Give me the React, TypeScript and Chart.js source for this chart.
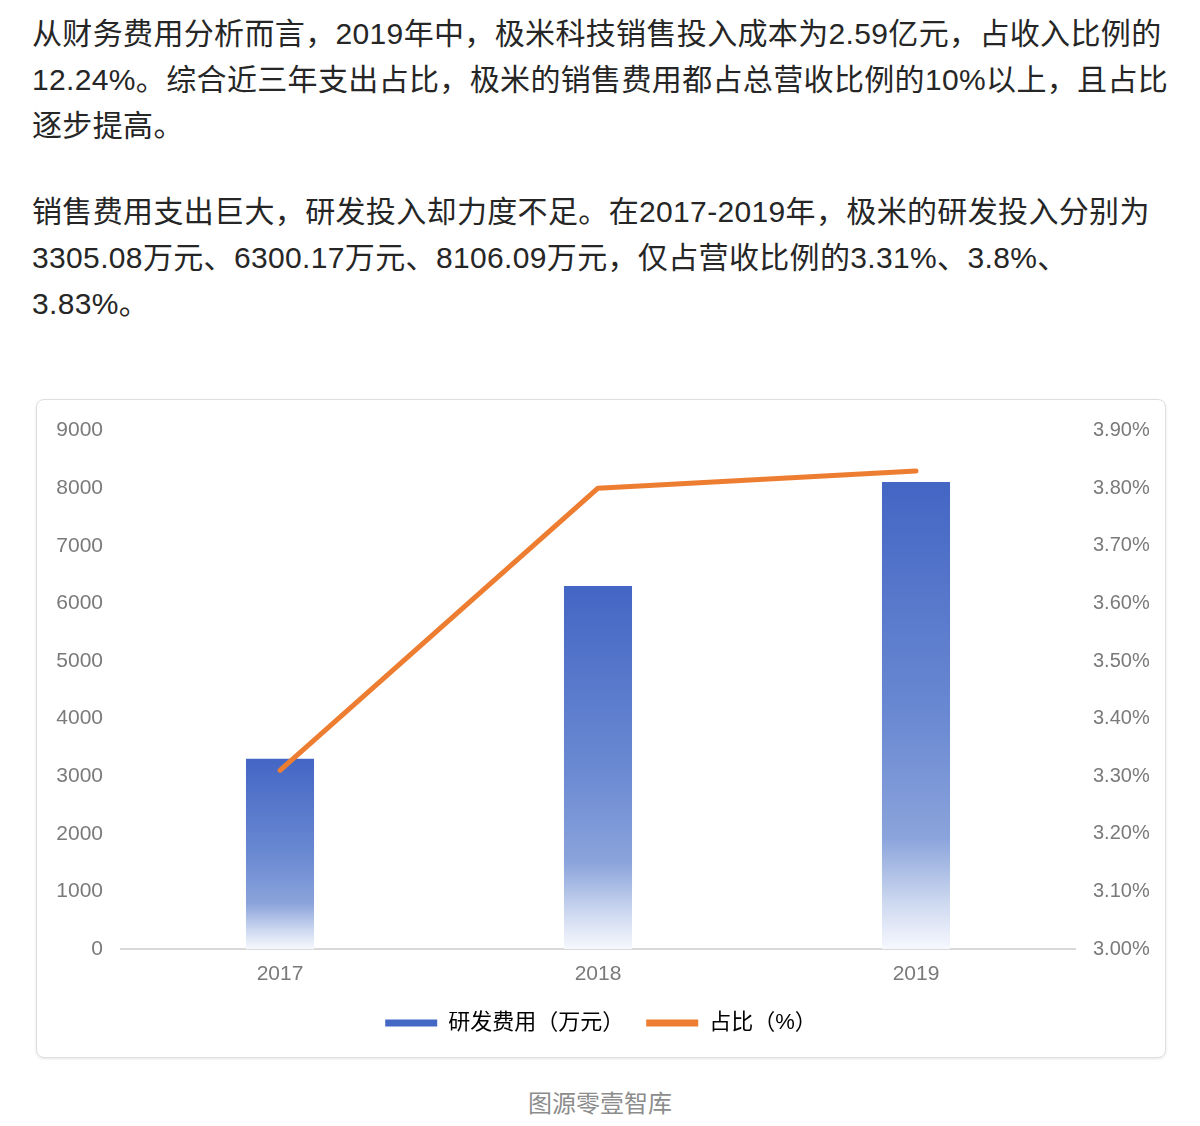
import { useEffect, useRef } from 'react'
import { Chart, ChartConfiguration, registerables } from 'chart.js'

Chart.register(...registerables)

// 数据
const years = ['2017', '2018', '2019']
const rdExpense = [3305.08, 6300.17, 8106.09] // 研发费用（万元）
const rdRatio = [3.31, 3.8, 3.83] // 占比（%）
const seriesLabels = ['研发费用（万元）', '占比（%）']

const BLUE = '#4468c6'
const ORANGE = '#ed7d31'
const TICK_FONT = '"Liberation Sans", Arial, "Noto Sans CJK SC", sans-serif'
const CJK_FONT = '"Liberation Sans", "Noto Sans CJK SC", sans-serif'

function RdChart() {
  const canvasRef = useRef<HTMLCanvasElement>(null)
  const chartRef = useRef<Chart | null>(null)

  useEffect(() => {
    if (!canvasRef.current) return
    if (chartRef.current) chartRef.current.destroy()

    const config: ChartConfiguration = {
      type: 'bar',
      data: {
        labels: years,
        datasets: [
          {
            type: 'line',
            label: seriesLabels[1],
            data: rdRatio,
            yAxisID: 'y1',
            borderColor: ORANGE,
            backgroundColor: ORANGE,
            borderWidth: 5,
            borderCapStyle: 'round',
            borderJoinStyle: 'round',
            pointRadius: 0,
            tension: 0,
            order: 0
          },
          {
            type: 'bar',
            label: seriesLabels[0],
            data: rdExpense,
            yAxisID: 'y',
            order: 1,
            barPercentage: 0.214,
            categoryPercentage: 1,
            backgroundColor: (ctx: any) => {
              const chart = ctx.chart
              if (!chart.chartArea || ctx.type !== 'data') return BLUE
              const yScale = chart.scales.y
              const top = yScale.getPixelForValue(ctx.parsed.y)
              const bottom = yScale.getPixelForValue(0)
              const g = chart.ctx.createLinearGradient(0, top, 0, bottom)
              g.addColorStop(0, '#4466c4')
              g.addColorStop(0.5, '#6a89d2')
              g.addColorStop(0.76, '#8aa3db')
              g.addColorStop(0.9, '#cdd8f0')
              g.addColorStop(1, '#f6f8fd')
              return g
            }
          }
        ]
      },
      options: {
        responsive: true,
        maintainAspectRatio: false,
        animation: false,
        layout: { padding: { top: 28, bottom: 13, left: 0, right: 0 } },
        scales: {
          x: {
            offset: true,
            grid: { display: false, drawTicks: false },
            border: { display: true, color: '#d9d9d9', width: 2 },
            ticks: {
              padding: 13,
              color: '#7a7a7a',
              font: { family: TICK_FONT, size: 21 }
            },
            afterFit: (scale: any) => {
              scale.height = 41
            }
          },
          y: {
            position: 'left',
            min: 0,
            max: 9000,
            grid: { display: false, drawTicks: false },
            border: { display: false },
            ticks: {
              stepSize: 1000,
              padding: 18,
              color: '#7a7a7a',
              font: { family: TICK_FONT, size: 21 },
              callback: (v: any) => String(v)
            },
            afterFit: (scale: any) => {
              scale.width = 84
            }
          },
          y1: {
            position: 'right',
            min: 3.0,
            max: 3.9,
            grid: { display: false, drawTicks: false },
            border: { display: false },
            ticks: {
              stepSize: 0.1,
              padding: 18,
              color: '#7a7a7a',
              font: { family: TICK_FONT, size: 20 },
              callback: (v: any) => Number(v).toFixed(2) + '%'
            },
            afterFit: (scale: any) => {
              scale.width = 90
            }
          }
        },
        plugins: {
          legend: {
            position: 'bottom',
            labels: {
              boxWidth: 52,
              boxHeight: 7,
              padding: 22,
              color: '#666666',
              font: { family: CJK_FONT, size: 22 },
              generateLabels: () => [
                { text: seriesLabels[0], fillStyle: BLUE, strokeStyle: BLUE, lineWidth: 0, datasetIndex: 1, hidden: false },
                { text: seriesLabels[1], fillStyle: ORANGE, strokeStyle: ORANGE, lineWidth: 0, datasetIndex: 0, hidden: false }
              ]
            }
          },
          tooltip: { enabled: false }
        }
      }
    }

    chartRef.current = new Chart(canvasRef.current, config)

    return () => {
      if (chartRef.current) {
        chartRef.current.destroy()
        chartRef.current = null
      }
    }
  }, [])

  return (
    <div style={{ position: 'absolute', left: 37, top: 400, width: 1128, height: 657 }}>
      <canvas ref={canvasRef} />
    </div>
  )
}

const textStyle: React.CSSProperties = {
  position: 'absolute',
  left: 32,
  margin: 0,
  fontFamily: '"Liberation Sans", "Noto Sans CJK SC", sans-serif',
  fontSize: 30,
  lineHeight: '46px',
  letterSpacing: '0.35px',
  color: '#262626',
  whiteSpace: 'nowrap'
}

export default function App() {
  return (
    <div style={{ position: 'absolute', left: 0, top: 0, width: 1200, height: 1126, background: '#ffffff', overflow: 'hidden' }}>
      <p style={{ ...textStyle, top: 11 }}>
        从财务费用分析而言，2019年中，极米科技销售投入成本为2.59亿元，占收入比例的<br />
        12.24%。综合近三年支出占比，极米的销售费用都占总营收比例的10%以上，且占比<br />
        逐步提高。
      </p>
      <p style={{ ...textStyle, top: 189 }}>
        销售费用支出巨大，研发投入却力度不足。在2017-2019年，极米的研发投入分别为<br />
        3305.08万元、6300.17万元、8106.09万元，仅占营收比例的3.31%、3.8%、<br />
        3.83%。
      </p>
      <div
        style={{
          position: 'absolute',
          left: 36,
          top: 399,
          width: 1128,
          height: 657,
          border: '1px solid #dedede',
          borderRadius: 8,
          boxShadow: '0 1px 3px rgba(0,0,0,0.10)'
        }}
      />
      <RdChart />
      <div
        style={{
          position: 'absolute',
          left: 0,
          width: 1200,
          top: 1086,
          textAlign: 'center',
          fontFamily: '"Noto Sans CJK SC", sans-serif',
          fontSize: 24,
          lineHeight: '32px',
          color: '#8c8c8c'
        }}
      >
        图源零壹智库
      </div>
    </div>
  )
}
